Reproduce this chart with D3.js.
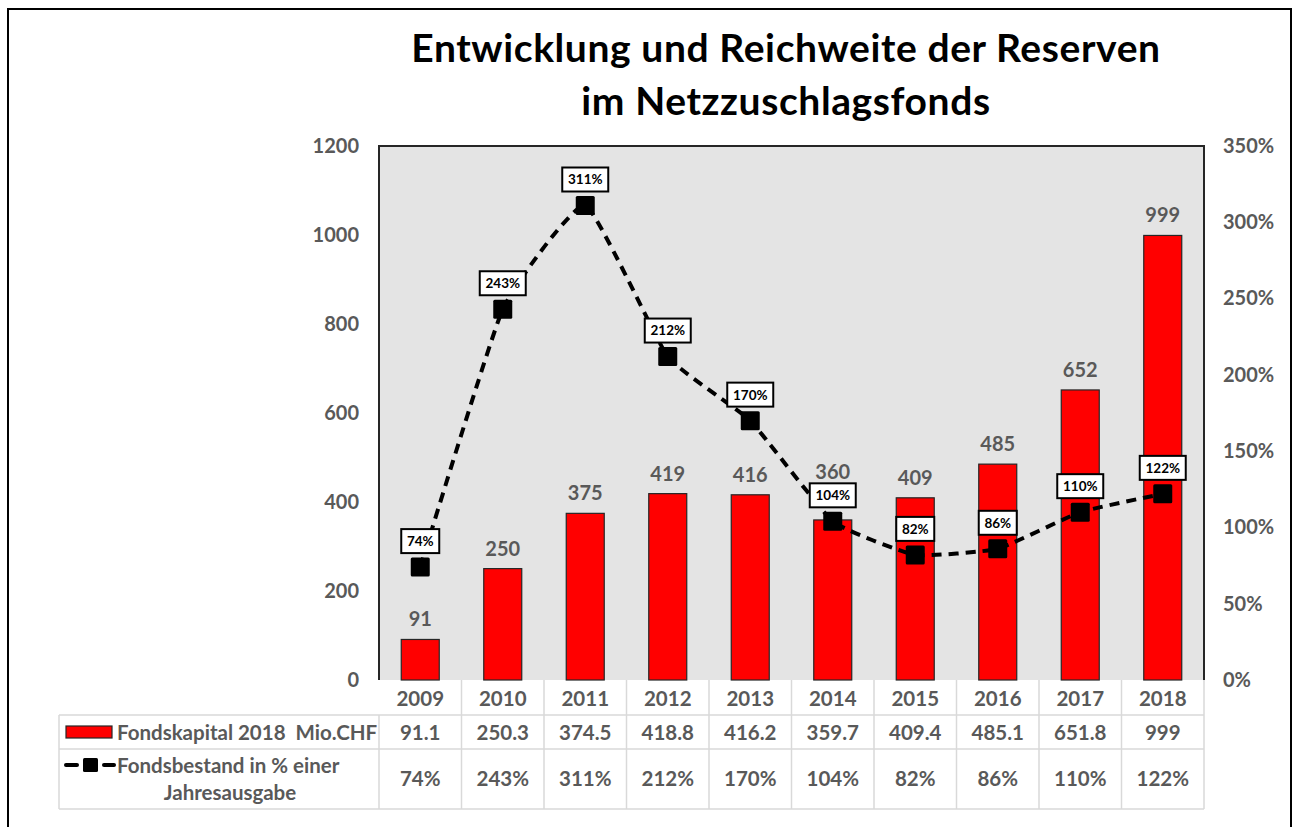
<!DOCTYPE html>
<html>
<head>
<meta charset="utf-8">
<script src="https://cdn.jsdelivr.net/npm/d3@7"></script>
<style>
  body { margin: 0; background: #fff; }
  svg { display: block; font-family: Lato, "Open Sans", sans-serif; }
</style>
</head>
<body>
<div id="chart"></div>
<script>
// daten
var years = ["2009", "2010", "2011", "2012", "2013", "2014", "2015", "2016", "2017", "2018"];
var kapital = [91.1, 250.3, 374.5, 418.8, 416.2, 359.7, 409.4, 485.1, 651.8, 999];
var kapitalText = ["91.1", "250.3", "374.5", "418.8", "416.2", "359.7", "409.4", "485.1", "651.8", "999"];
var bestand = [74, 243, 311, 212, 170, 104, 82, 86, 110, 122];
var leftTicks = [0, 200, 400, 600, 800, 1000, 1200];
var rightTicks = [0, 50, 100, 150, 200, 250, 300, 350];
var titleLines = ["Entwicklung und Reichweite der Reserven", "im Netzzuschlagsfonds"];

var W = 1295, H = 827;
var plot = {left: 379, right: 1204, top: 146, bottom: 680};
var grey = "#595959";
var tableFont = 20.5;

var svg = d3.select("#chart").append("svg")
    .attr("width", W)
    .attr("height", H);

// rahmen
svg.append("path")
    .attr("d", "M8," + H + "V9H1291V" + H)
    .attr("fill", "none")
    .attr("stroke", "#000")
    .attr("stroke-width", 2);

// titel
svg.append("g").selectAll("text")
    .data(titleLines)
    .enter()
    .append("text")
    .attr("x", 786)
    .attr("y", function(d, i) { return 62 + i * 53; })
    .attr("text-anchor", "middle")
    .attr("font-size", 39)
    .attr("letter-spacing", 0.6)
    .attr("font-weight", "bold")
    .attr("fill", "#000")
    .text(function(d) { return d; });

var x = d3.scaleBand()
    .domain(years)
    .range([plot.left, plot.right]);

var yL = d3.scaleLinear().domain([0, 1200]).range([plot.bottom, plot.top]);
var yR = d3.scaleLinear().domain([0, 350]).range([plot.bottom, plot.top]);

function cx(i) { return x(years[i]) + x.bandwidth() / 2; }

// hintergrund
svg.append("rect")
    .attr("x", plot.left)
    .attr("y", plot.top)
    .attr("width", plot.right - plot.left)
    .attr("height", plot.bottom - plot.top)
    .attr("fill", "#e4e4e4");

svg.append("path")
    .attr("d", "M" + plot.left + "," + plot.bottom + "V" + plot.top + "H" + plot.right + "V" + plot.bottom)
    .attr("fill", "none")
    .attr("stroke", "#262626")
    .attr("stroke-width", 2);

// achsen
var axisL = svg.append("g")
    .attr("transform", "translate(" + (plot.left - 20) + ",0)")
    .call(d3.axisLeft(yL).tickValues(leftTicks).tickSize(0).tickPadding(0)
        .tickFormat(d3.format("d")));

var axisR = svg.append("g")
    .attr("transform", "translate(" + (plot.right + 19) + ",0)")
    .call(d3.axisRight(yR).tickValues(rightTicks).tickSize(0).tickPadding(0)
        .tickFormat(function(d) { return d + "%"; }));

[axisL, axisR].forEach(function(a) {
    a.select(".domain").remove();
    a.selectAll("text")
        .attr("font-family", "Lato, 'Open Sans', sans-serif")
        .attr("font-size", 20)
        .attr("font-weight", "bold")
        .attr("fill", grey);
});

// balken
var bw = 38;
svg.append("g").selectAll("rect")
    .data(kapital)
    .enter()
    .append("rect")
    .attr("x", function(d, i) { return cx(i) - bw / 2; })
    .attr("y", function(d) { return yL(d); })
    .attr("width", bw)
    .attr("height", function(d) { return plot.bottom - yL(d); })
    .attr("fill", "#ff0000")
    .attr("stroke", "#262626")
    .attr("stroke-width", 1.2);

// label-boxen der linie (fuer kollisionspruefung)
var boxH = 24, boxGap = 26;
function boxTop(p) { return yR(p) - boxGap - boxH / 2; }
function boxBottom(p) { return yR(p) - boxGap + boxH / 2; }

svg.append("g").selectAll("text")
    .data(kapital)
    .enter()
    .append("text")
    .attr("x", function(d, i) { return cx(i); })
    .attr("y", function(d, i) {
        var base = yL(d) - 13;
        var p = bestand[i];
        // wenn das label in die box der linie faellt, darueber setzen
        if (base > boxTop(p) && base - 15 < boxBottom(p)) base = boxTop(p) - 4;
        return base;
    })
    .attr("text-anchor", "middle")
    .attr("font-size", 20)
    .attr("font-weight", "bold")
    .attr("fill", grey)
    .text(function(d) { return Math.round(d); });

// linie
var line = d3.line()
    .x(function(d, i) { return cx(i); })
    .y(function(d) { return yR(d); })
    .curve(d3.curveCardinal.tension(0.6));

svg.append("path")
    .datum(bestand)
    .attr("d", line)
    .attr("fill", "none")
    .attr("stroke", "#000")
    .attr("stroke-width", 4)
    .attr("stroke-dasharray", "10,7");

svg.append("g").selectAll("rect")
    .data(bestand)
    .enter()
    .append("rect")
    .attr("x", function(d, i) { return cx(i) - 9.5; })
    .attr("y", function(d) { return yR(d) - 9.5; })
    .attr("width", 19)
    .attr("height", 19)
    .attr("rx", 1.5)
    .attr("fill", "#000");

var lbl = svg.append("g").selectAll("g")
    .data(bestand)
    .enter()
    .append("g")
    .attr("transform", function(d, i) {
        return "translate(" + cx(i) + "," + (yR(d) - boxGap) + ")";
    });

lbl.append("rect")
    .attr("x", function(d) { return d >= 100 ? -23 : -19; })
    .attr("y", -boxH / 2)
    .attr("width", function(d) { return d >= 100 ? 46 : 38; })
    .attr("height", boxH)
    .attr("fill", "#fff")
    .attr("stroke", "#000")
    .attr("stroke-width", 2);

lbl.append("text")
    .attr("text-anchor", "middle")
    .attr("dy", "0.36em")
    .attr("font-size", 13.5)
    .attr("font-weight", "bold")
    .attr("fill", "#000")
    .text(function(d) { return d + "%"; });

// datentabelle
var tbl = svg.append("g");
var lineCol = "#d9d9d9";
var rows = [680, 715, 749, 809];
var tableLeft = 59;

[rows[1], rows[2], rows[3]].forEach(function(r) {
    tbl.append("line")
        .attr("x1", tableLeft).attr("x2", plot.right)
        .attr("y1", r).attr("y2", r);
});
tbl.append("line")
    .attr("x1", tableLeft).attr("x2", tableLeft)
    .attr("y1", rows[1]).attr("y2", rows[3]);

tbl.selectAll("line.v")
    .data(years.concat(["end"]))
    .enter()
    .append("line")
    .attr("class", "v")
    .attr("x1", function(d) { return d === "end" ? plot.right : x(d); })
    .attr("x2", function(d) { return d === "end" ? plot.right : x(d); })
    .attr("y1", function(d, i) { return i === 0 ? rows[1] : rows[0]; })
    .attr("y2", rows[3]);

tbl.selectAll("line").attr("stroke", lineCol).attr("stroke-width", 1.5);

function cellText(data, yPos) {
    tbl.append("g").selectAll("text")
        .data(data)
        .enter()
        .append("text")
        .attr("x", function(d, i) { return cx(i); })
        .attr("y", yPos)
        .attr("text-anchor", "middle")
        .attr("dy", "0.35em")
        .attr("font-size", tableFont)
        .attr("font-weight", "bold")
        .attr("fill", grey)
        .text(function(d) { return d; });
}

cellText(years, 699);
cellText(kapitalText, 733);
cellText(bestand.map(function(d) { return d + "%"; }), 779);

// legende im tabellenkopf
tbl.append("rect")
    .attr("x", 66).attr("y", 726)
    .attr("width", 46).attr("height", 12)
    .attr("fill", "#ff0000")
    .attr("stroke", "#262626")
    .attr("stroke-width", 1.2);

tbl.append("text")
    .attr("x", 117).attr("y", 733)
    .attr("dy", "0.35em")
    .attr("font-size", tableFont)
    .attr("font-weight", "bold")
    .attr("fill", grey)
    .attr("xml:space", "preserve")
    .text("Fondskapital 2018  Mio.CHF");

[[66, 77], [104, 114]].forEach(function(s) {
    tbl.append("line")
        .attr("x1", s[0]).attr("x2", s[1])
        .attr("y1", 765).attr("y2", 765)
        .attr("stroke", "#000")
        .attr("stroke-width", 4)
        .attr("stroke-linecap", "round");
});
tbl.append("rect")
    .attr("x", 83).attr("y", 758)
    .attr("width", 15).attr("height", 14)
    .attr("rx", 1.5)
    .attr("fill", "#000");

tbl.append("text")
    .attr("x", 117).attr("y", 766)
    .attr("dy", "0.35em")
    .attr("font-size", tableFont)
    .attr("font-weight", "bold")
    .attr("fill", grey)
    .text("Fondsbestand in % einer");

tbl.append("text")
    .attr("x", 230).attr("y", 793)
    .attr("dy", "0.35em")
    .attr("text-anchor", "middle")
    .attr("font-size", tableFont)
    .attr("font-weight", "bold")
    .attr("fill", grey)
    .text("Jahresausgabe");
</script>
</body>
</html>
